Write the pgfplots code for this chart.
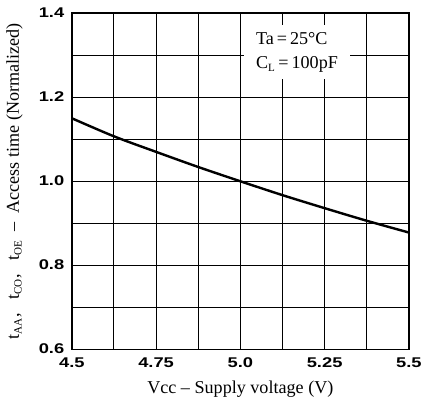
\documentclass[border=0pt]{standalone}
\usepackage{amsmath}
\usepackage{fontspec}
\setmainfont{Liberation Serif}
\setsansfont{Liberation Sans}
\newfontfamily\tickfont[FakeStretch=1.3]{Liberation Sans}
\usepackage{pgfplots}
\pgfplotsset{compat=1.18}
\newcommand{\sub}[1]{$_{\text{\fontsize{11}{11}\selectfont #1}}$}
\begin{document}
\begin{tikzpicture}
\begin{axis}[
  scale only axis,
  width=335pt, height=334pt,
  xmin=4.5, xmax=5.5, ymin=0.6, ymax=1.4,
  xtick={4.5,4.625,4.75,4.875,5.0,5.125,5.25,5.375,5.5},
  ytick={0.6,0.7,0.8,0.9,1.0,1.1,1.2,1.3,1.4},
  xticklabels={4.5,,4.75,,5.0,,5.25,,5.5},
  yticklabels={0.6,,0.8,,1.0,,1.2,,1.4},
  /pgf/number format/assume math mode=true,
  tick label style={font=\tickfont\bfseries\fontsize{14}{16}\selectfont},
  xticklabel style={yshift=-5pt},
  yticklabel style={xshift=-4pt, yshift=1pt},
  major tick length=0pt,
  grid=major,
  grid style={black, line width=0.9pt},
  axis line style={black, line width=1.5pt},
  xlabel={Vcc -- Supply voltage (V)},
  ylabel={t\sub{AA},\ \ \ t\sub{CO},\ \ \ t\sub{OE} \ -- \ Access time (Normalized)},
  label style={font=\fontsize{18}{20}\selectfont},
  xlabel style={yshift=-6pt},
  ylabel style={yshift=9pt},
]
\addplot[black, line width=2.4pt, smooth] coordinates {
(4.5,1.150) (4.625,1.107) (4.75,1.070) (4.875,1.034) (5.0,1.000)
(5.125,0.967) (5.25,0.936) (5.375,0.906) (5.5,0.878)};
\node[fill=white, align=left, inner sep=2pt, minimum width=105pt, minimum height=54pt, font=\fontsize{18}{24}\selectfont] at (axis cs:5.168,1.307) {Ta\,=\,25°C\\C\sub{L}\,=\,100pF};
\end{axis}
\path (current bounding box.north west) ++(-3pt,4pt);
\path (current bounding box.south west) ++(0pt,-3pt);
\end{tikzpicture}
\end{document}
